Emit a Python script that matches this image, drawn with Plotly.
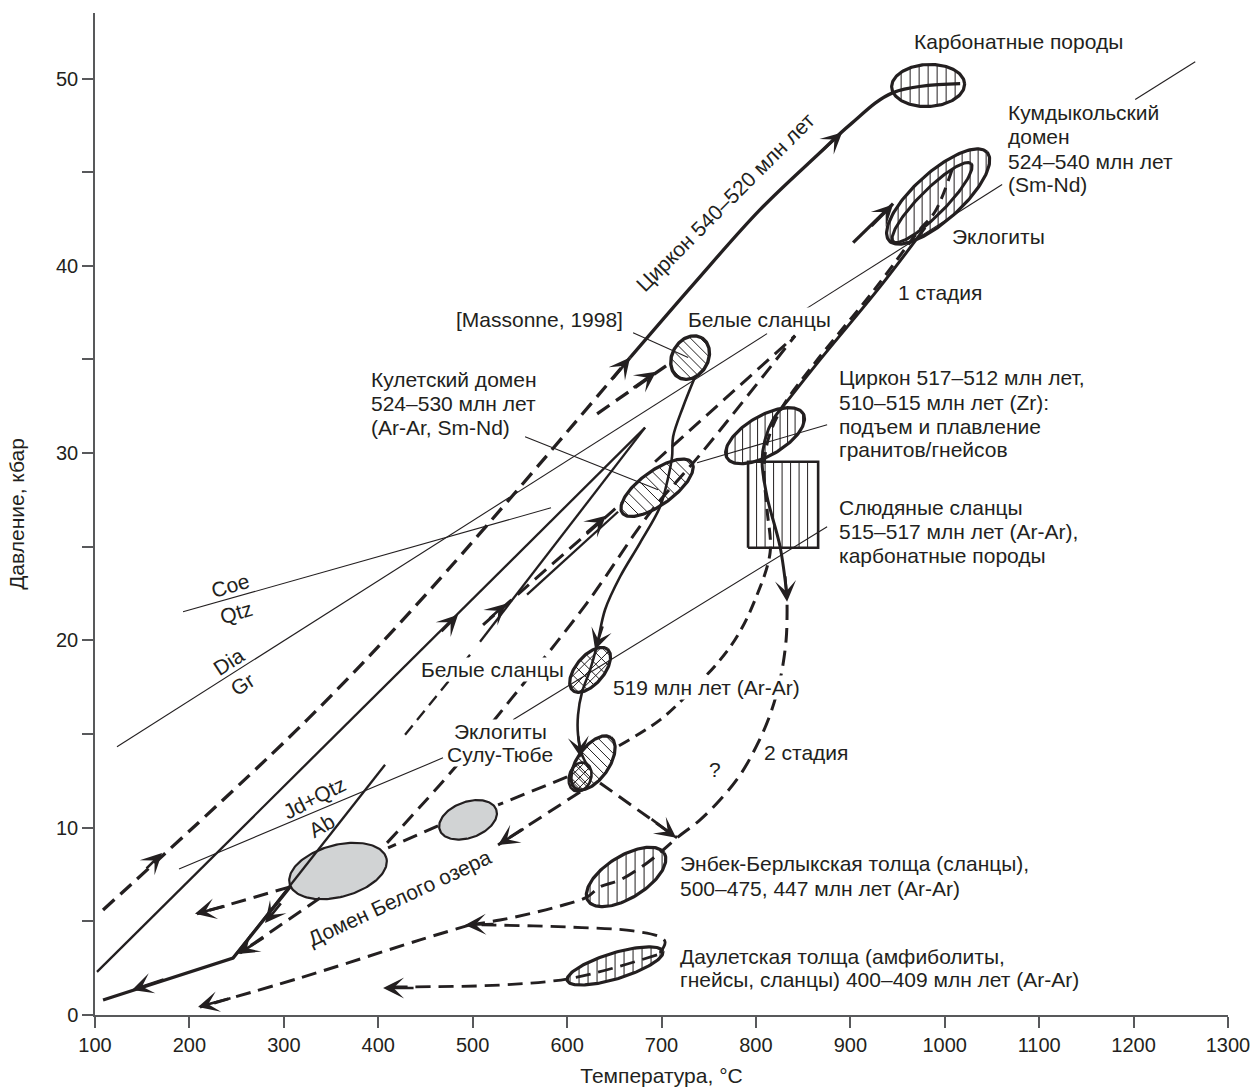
import numpy as np
import plotly.graph_objects as go

# ---------------- axes ----------------
x_range = [100, 1300]
y_range = [0, 53.5]
x_tickvals = list(range(100, 1301, 100))
y_tickvals = [0, 5, 10, 15, 20, 25, 30, 35, 40, 45, 50]
y_ticktext = ['0', '', '10', '', '20', '', '30', '', '40', '', '50']

# ---------------- thin reaction / leader lines (T °C, P kbar) ----------------
coe_qtz_T = [193.2, 583.0]
coe_qtz_P = [21.53, 27.08]
dia_gr_T = [123.3, 811.8, None, 850.0, 1060.8]
dia_gr_P = [14.32, 36.38, None, 37.61, 44.34]
jd_ab_T = [189.0, 468.6]
jd_ab_P = [7.80, 13.73]
leader_T = [542.8, 875.4, None, 555.5, 696.4, None, 737.7, 875.4, None, 669.9, 728.2, None, 1201.7, 1265.3]
leader_P = [15.76, 26.07, None, 30.88, 28.05, None, 29.49, 31.52, None, 36.43, 35.10, None, 48.88, 50.90]

# ---------------- medium solid lines ----------------
geo_a_T = [102.1, 479.2, 682.6]
geo_a_P = [2.30, 21.21, 31.36]
geo_b_T = [246.2, 407.2, None, 507.8, 682.6]
geo_b_P = [3.04, 13.36, None, 19.93, 31.36]
geo_b_dash_T = [428.4, 497.2]
geo_b_dash_P = [14.96, 19.23]
kulet_solid_T = [557.6, 654.0]
kulet_solid_P = [22.44, 26.87]
kulet_dash_T = [511.0, 658.2]
kulet_dash_P = [20.83, 27.35]

# path Massonne white schists -> Kulet -> white schists 519 -> Sulu-Tyube
ws_path_T = [735.6, 722.9, 712.3, 711.2, 707.0, 698.5, 677.3, 656.1, 640.2, 631.8, 624.4, 615.9, 611.6, 611.6, 615.9, 624.4]
ws_path_P = [34.08, 32.48, 30.88, 29.81, 28.69, 27.14, 25.21, 23.40, 21.64, 19.77, 18.43, 17.25, 16.03, 14.96, 13.89, 13.09]

# ---------------- bold solid lines ----------------
zircon_solid_T = [666.7, 733.5, 804.4, 868.0, 899.8, 945.3, 1016.3]
zircon_solid_P = [35.10, 39.00, 43.00, 46.05, 47.54, 49.25, 49.73]
kum_pro_T = [903.0, 945.3]
kum_pro_P = [41.24, 43.32]
stage1_T = [979.2, 931.6, 868.0, 836.1, 818.2, 809.7, 806.5, 811.8, 825.6, 833.0]
stage1_P = [42.04, 38.89, 34.99, 32.96, 31.79, 30.72, 29.54, 27.67, 25.00, 22.33]
retro_T = [306.6, 246.2, 108.5]
retro_P = [6.84, 3.04, 0.80]

# ---------------- bold dashed lines ----------------
zircon_dash_T = [108.5, 324.6, 454.9, 666.7]
zircon_dash_P = [5.61, 15.76, 22.70, 35.10]
massonne_in_T = [631.8, 711.2]
massonne_in_P = [32.10, 34.88]
line_b_T = [409.3, 479.2, 541.7, 621.2, 687.9, 740.9, 841.5]
line_b_P = [9.19, 13.09, 16.93, 22.01, 26.82, 29.92, 36.27]
q1_T = [693.2, 841.5]
q1_P = [29.54, 36.27]
stage1_dash_T = [1007.8, 989.8, 971.8, 926.3, 862.7, 827.7, 812.9, 808.6, 811.8, 815.0, 799.1, 781.1, 762.1, 730.3, 698.5, 653.0]
stage1_dash_P = [45.14, 42.90, 41.83, 38.78, 34.83, 32.43, 30.72, 29.11, 26.98, 24.68, 22.17, 20.30, 18.96, 17.25, 15.76, 14.32]
stage2_T = [833.0, 832.0, 825.6, 815.0, 801.2, 783.3, 762.1, 740.9, 716.5, 701.7, 684.7, 656.1, 634.9, 621.2, 592.6, 564.0, 529.0, 497.2]
stage2_P = [21.90, 20.03, 17.90, 16.03, 14.42, 12.82, 11.49, 10.42, 9.46, 8.81, 8.12, 7.21, 6.84, 6.30, 5.82, 5.45, 5.07, 4.81]
stage2_tail_T = [497.2, 444.3, 317.2, 211.2]
stage2_tail_P = [4.81, 4.01, 1.98, 0.43]
short_dash_T = [634.9, 716.5, None, 600.0, 526.9, None, 463.3, 410.4, None, 613.8, 526.9, None, 338.3, 253.6, None, 306.6, 208.0]
short_dash_P = [12.39, 9.46, None, 12.71, 11.22, None, 10.10, 8.92, None, 11.91, 9.08, None, 6.25, 3.31, None, 6.84, 5.40]
daulet_loop_T = [698.5, 703.8, 698.5, 669.9, 600.0, 511.0, 497.2]
daulet_loop_P = [3.31, 3.90, 4.17, 4.49, 4.70, 4.81, 4.81]
daulet_low_T = [695.3, 606.3, 529.0, 423.1, 410.4]
daulet_low_P = [3.21, 1.98, 1.60, 1.50, 1.50]

# ---------------- ellipses: centre T, centre P, half-axis 1 (dT, dP), half-axis 2 (dT, dP) ----------------
ell_carb = [982.4, 49.63, 38.6, 0.10, -1.2, 1.12]
ell_kum_outer = [993.0, 43.70, 51.9, 2.36, -17.0, 0.95]
ell_kum_inner = [986.6, 43.38, 41.2, 2.08, -9.7, 0.49]
ell_massonne = [730.3, 35.10, 12.2, 1.06, -16.5, 0.48]
ell_kulet = [695.3, 28.15, 36.8, 1.35, -10.6, 0.73]
ell_zr517 = [809.7, 30.93, 40.4, 1.18, -10.6, 0.92]
ell_ws519 = [624.4, 18.43, 18.4, 1.10, -11.4, 0.48]
ell_sulu = [627.5, 13.46, 18.8, 1.36, -13.9, 0.49]
ell_sulu_small = [613.8, 12.71, 5.4, 0.75, -10.9, 0.20]
ell_big_grey = [357.4, 7.69, 51.2, 0.69, -7.1, 1.34]
ell_small_grey = [495.1, 10.42, 29.9, 0.55, -6.5, 0.90]
ell_enbek = [662.5, 7.37, 40.4, 1.27, -11.8, 0.95]
ell_daulet = [650.8, 2.62, 50.6, 0.78, -4.0, 0.66]

# mica schist box
rect_T = [791.7, 865.9]
rect_P = [24.95, 29.54]

# arrows: tail T, tail P, tip T, tip P
arrows = [
    (153.0, 7.75, 171.0, 8.65),
    (647.7, 33.92, 666.7, 35.10),
    (868.0, 46.05, 891.3, 47.12),
    (465.5, 20.41, 484.5, 21.37),
    (668.8, 33.44, 694.3, 34.35),
    (921.0, 42.04, 945.3, 43.27),
    (516.3, 21.10, 535.4, 21.96),
    (619.1, 25.70, 641.3, 26.66),
    (638.1, 20.83, 629.7, 19.50),
    (611.6, 14.96, 614.8, 13.73),
    (830.9, 23.50, 833.0, 22.06),
    (687.9, 10.52, 715.5, 9.46),
    (555.5, 9.99, 526.9, 9.08),
    (523.7, 4.86, 491.9, 4.81),
    (245.1, 0.91, 209.1, 0.43),
    (439.0, 1.44, 405.1, 1.44),
    (238.8, 5.82, 205.9, 5.40),
    (298.1, 6.04, 280.1, 4.91),
    (280.1, 4.17, 251.5, 3.26),
    (174.2, 1.92, 139.2, 1.34),
]

# ---------------- layout geometry ----------------
W, H = 1256, 1087
ML, MR, MT, MB = 95, 28, 13, 72
SX = (W - ML - MR) / (x_range[1] - x_range[0])
SY = (H - MT - MB) / (y_range[1] - y_range[0])

INK = '#231f20'
FONT = 'Liberation Sans, Arial, Helvetica, sans-serif'


def ellipse_outline(e, n=160):
    cT, cP, aT, aP, bT, bP = e
    t = np.linspace(0, 2 * np.pi, n)
    return cT + np.cos(t) * aT + np.sin(t) * bT, cP + np.cos(t) * aP + np.sin(t) * bP


def ellipse_hatch(e, angle_deg, spacing_px):
    cT, cP, aT, aP, bT, bP = e
    A = np.array([aT * SX, aP * SY])
    B = np.array([bT * SX, bP * SY])
    th = np.radians(angle_deg)
    nv = np.array([-np.sin(th), np.cos(th)])
    na, nb = nv @ A, nv @ B
    R = np.hypot(na, nb)
    phi = np.arctan2(nb, na)
    xs, ys = [], []
    k = int(R // spacing_px)
    for i in range(-k, k + 1):
        s = i * spacing_px
        if abs(s) >= R * 0.97:
            continue
        d = np.arccos(s / R)
        for t in (phi + d, phi - d):
            xs.append(cT + np.cos(t) * aT + np.sin(t) * bT)
            ys.append(cP + np.cos(t) * aP + np.sin(t) * bP)
        xs.append(None)
        ys.append(None)
    return xs, ys


fig = go.Figure()


def add_line(T, P, width, dash=None, shape='linear'):
    fig.add_trace(go.Scatter(x=T, y=P, mode='lines', hoverinfo='skip',
                             line=dict(color=INK, width=width, dash=dash, shape=shape)))


BOLD_DASH = '15px,8px'
MED_DASH = '12px,7px'

# grey filled ellipses
for e in (ell_big_grey, ell_small_grey):
    ex, ey = ellipse_outline(e)
    fig.add_trace(go.Scatter(x=ex, y=ey, mode='lines', fill='toself', fillcolor='#d1d3d4',
                             line=dict(color=INK, width=2.2), hoverinfo='skip'))

# hatching
hatch_specs = [
    (ell_carb, [90], 9),
    (ell_kum_outer, [90], 8),
    (ell_massonne, [-45], 7),
    (ell_kulet, [-45], 8),
    (ell_zr517, [90], 7.5),
    (ell_ws519, [45, -45], 8),
    (ell_sulu, [-45], 7),
    (ell_sulu_small, [45, -45], 7),
    (ell_enbek, [90], 9),
    (ell_daulet, [90], 9),
]
hx, hy = [], []
for e, angs, sp in hatch_specs:
    for a in angs:
        xs, ys = ellipse_hatch(e, a, sp)
        hx += xs
        hy += ys
# rectangle hatch (vertical)
step = 8.5 / SX
tv = rect_T[0] + step
while tv < rect_T[1] - 0.5 * step:
    hx += [tv, tv, None]
    hy += [rect_P[0], rect_P[1], None]
    tv += step
add_line(hx, hy, 1.0)

# thin lines
add_line(coe_qtz_T, coe_qtz_P, 1.1)
add_line(dia_gr_T, dia_gr_P, 1.1)
add_line(jd_ab_T, jd_ab_P, 1.1)
add_line(leader_T, leader_P, 1.1)

# medium lines
add_line(geo_a_T, geo_a_P, 2.3)
add_line(geo_b_T, geo_b_P, 2.3)
add_line(geo_b_dash_T, geo_b_dash_P, 2.3, MED_DASH)
add_line(kulet_solid_T, kulet_solid_P, 2.3)
add_line(kulet_dash_T, kulet_dash_P, 3.0, BOLD_DASH)
add_line(ws_path_T, ws_path_P, 2.6, None, 'spline')

# bold solid
add_line(zircon_solid_T, zircon_solid_P, 3.3, None, 'spline')
add_line(kum_pro_T, kum_pro_P, 3.3)
add_line(stage1_T, stage1_P, 3.0, None, 'spline')
add_line(retro_T, retro_P, 3.3)

# bold dashed
add_line(zircon_dash_T, zircon_dash_P, 3.3, BOLD_DASH, 'spline')
add_line(massonne_in_T, massonne_in_P, 3.3, BOLD_DASH)
add_line(line_b_T, line_b_P, 3.0, BOLD_DASH, 'spline')
add_line(q1_T, q1_P, 3.0, BOLD_DASH)
add_line(stage1_dash_T, stage1_dash_P, 3.0, MED_DASH, 'spline')
add_line(stage2_T, stage2_P, 3.0, BOLD_DASH, 'spline')
add_line(stage2_tail_T, stage2_tail_P, 3.0, BOLD_DASH, 'spline')
add_line(short_dash_T, short_dash_P, 3.0, BOLD_DASH)
add_line(daulet_loop_T, daulet_loop_P, 2.8, BOLD_DASH, 'spline')
add_line(daulet_low_T, daulet_low_P, 2.8, BOLD_DASH, 'spline')

# ellipse outlines
for e, w in [(ell_carb, 3.2), (ell_kum_outer, 3.2), (ell_kum_inner, 3.0), (ell_massonne, 3.4),
             (ell_kulet, 3.2), (ell_zr517, 3.2), (ell_ws519, 3.2), (ell_sulu, 3.2),
             (ell_sulu_small, 2.6), (ell_enbek, 3.2), (ell_daulet, 3.2)]:
    ex, ey = ellipse_outline(e)
    add_line(list(ex), list(ey), w)

# rectangle outline
add_line([rect_T[0], rect_T[1], rect_T[1], rect_T[0], rect_T[0]],
         [rect_P[0], rect_P[0], rect_P[1], rect_P[1], rect_P[0]], 2.6)

annotations = []

TF = dict(family=FONT, size=21, color=INK)


def txt(x, y, s, anchor='left', angle=0, bg=True):
    d = dict(x=x, y=y, xref='x', yref='y', text=s, showarrow=False,
             xanchor=anchor, yanchor='middle', textangle=angle, font=TF, borderpad=0)
    if bg:
        d['bgcolor'] = 'white'
    annotations.append(d)


txt(966.5, 51.98, 'Карбонатные породы')
for s, p in zip(['Кумдыкольский', 'домен', '524–540 млн лет', '(Sm-Nd)'], [48.18, 46.90, 45.57, 44.34]):
    txt(1066.1, p, s)
txt(1006.8, 41.56, 'Эклогиты')
txt(949.6, 38.57, '1 стадия')
txt(481.3, 37.13, '[Massonne, 1998]')
txt(727.1, 37.13, 'Белые сланцы')
for s, p in zip(['Кулетский домен', '524–530 млн лет', '(Ar-Ar, Sm-Nd)'], [33.92, 32.64, 31.36]):
    txt(391.3, p, s)
for s, p in zip(['Циркон 517–512 млн лет,', '510–515 млн лет (Zr):', 'подъем и плавление', 'гранитов/гнейсов'],
                [34.03, 32.69, 31.41, 30.18]):
    txt(887.1, p, s)
for s, p in zip(['Слюдяные сланцы', '515–517 млн лет (Ar-Ar),', 'карбонатные породы'], [27.08, 25.80, 24.52]):
    txt(887.1, p, s)
txt(444.3, 18.43, 'Белые сланцы')
txt(647.7, 17.47, '519 млн лет (Ar-Ar)')
txt(529.0, 15.12, 'Эклогиты', 'center')
txt(529.0, 13.89, 'Сулу-Тюбе', 'center')
txt(756.8, 13.09, '?', 'center')
txt(807.6, 14.00, '2 стадия')
txt(718.6, 8.07, 'Энбек-Берлыкская толща (сланцы),')
txt(718.6, 6.78, '500–475, 447 млн лет (Ar-Ar)')
txt(718.6, 3.10, 'Даулетская толща (амфиболиты,')
txt(718.6, 1.87, 'гнейсы, сланцы) 400–409 млн лет (Ar-Ar)')
txt(767.0, 43.40, 'Циркон 540–520 млн лет', 'center', -45, False)
txt(243.0, 22.92, 'Coe', 'center', -17, False)
txt(249.4, 21.47, 'Qtz', 'center', -17, False)
txt(241.9, 18.86, 'Dia', 'center', -33, False)
txt(255.7, 17.63, 'Gr', 'center', -33, False)
txt(333.0, 11.59, 'Jd+Qtz', 'center', -27, False)
txt(340.5, 10.10, 'Ab', 'center', -30, False)
txt(423.1, 6.25, 'Домен Белого озера', 'center', -25, False)

for tT, tP, hT, hP in arrows:
    annotations.append(dict(x=hT, y=hP, ax=tT, ay=tP, xref='x', yref='y', axref='x', ayref='y',
                            text='', showarrow=True, arrowhead=3, arrowsize=1.35, arrowwidth=2.6,
                            arrowcolor=INK, standoff=0, startstandoff=0))

AX = '#58595b'
fig.update_layout(
    width=W, height=H, margin=dict(l=ML, r=MR, t=MT, b=MB, pad=0, autoexpand=False),
    paper_bgcolor='white', plot_bgcolor='white', showlegend=False,
    font=dict(family=FONT, size=20, color=INK),
    annotations=annotations,
    xaxis=dict(range=x_range, tickvals=x_tickvals, showgrid=False, zeroline=False,
               showline=True, linecolor=AX, linewidth=1.5, ticks='outside', ticklen=11,
               tickwidth=1.5, tickcolor=AX, tickfont=dict(size=20, color=INK), automargin=False,
               title=dict(text='Температура, °С', standoff=24, font=dict(size=21, color=INK))),
    yaxis=dict(range=y_range, tickvals=y_tickvals, ticktext=y_ticktext, showgrid=False,
               zeroline=False, showline=True, linecolor=AX, linewidth=1.5, ticks='outside',
               ticklen=11, tickwidth=1.5, tickcolor=AX, tickfont=dict(size=20, color=INK),
               automargin=False,
               title=dict(text='Давление, кбар', standoff=26, font=dict(size=21, color=INK))),
)

fig.write_html('out.html', config={'displayModeBar': False},
               post_script="document.body.style.margin='0';")
